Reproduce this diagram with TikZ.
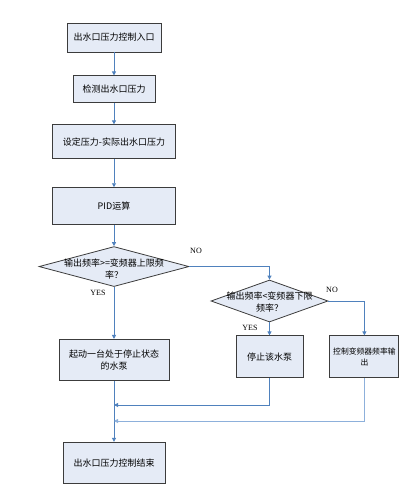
\documentclass[tikz,border=0pt]{standalone}
\usepackage{fontspec}
\setmainfont{Noto Sans CJK SC}
\newfontfamily\latinfont{Liberation Serif}
\usetikzlibrary{shapes.geometric, arrows.meta, positioning}
\definecolor{flowBlue}{RGB}{79, 129, 189}
\definecolor{flowBlueLight}{RGB}{141, 176, 219}
\definecolor{boxFill}{RGB}{229, 235, 246}
\definecolor{boxEdge}{RGB}{60, 60, 60}
\tikzset{
    % Base Block Style
    process/.style={
        rectangle,
        inner sep=1pt,
        align=center,
        font=\fontsize{9}{12}\selectfont,
        fill=boxFill,
        draw=boxEdge,
        line width=0.9pt
    },
    % Decision Style (text is set on its own node)
    decision/.style={
        diamond,
        inner sep=0pt,
        fill=boxFill,
        draw=boxEdge,
        line width=0.8pt
    },
    decisionText/.style={align=center, font=\fontsize{9}{12}\selectfont},
    % Arrow & Label Styles
    arrow/.style={-{Triangle[width=4pt,length=4pt]}, line width=0.9pt, draw=flowBlue},
    arrowLight/.style={arrow, draw=flowBlueLight},
    branchLabel/.style={font=\latinfont\fontsize{8}{10}\selectfont}
}
\begin{document}
\begin{tikzpicture}[x=1pt, y=-1pt]

    \useasboundingbox (0,0) rectangle (408,490);

    % --- MAIN COLUMN ---
    \node (entry) [process, minimum width=94pt, minimum height=29pt] at (114,37.5) {出水口压力控制入口};
    \node (detect) [process, minimum width=82pt, minimum height=27pt, below=23pt of entry] {检测出水口压力};
    \node (diff) [process, minimum width=123pt, minimum height=34pt, below=21pt of detect] {设定压力-实际出水口压力};
    \node (pid) [process, minimum width=123pt, minimum height=37pt, below=28pt of diff] {PID运算};

    % 1. Upper limit check
    \node (decUp) [decision, minimum width=150pt, minimum height=40pt, below=21pt of pid] {};
    \node (decUpText) [decisionText] at ([yshift=-2pt]decUp.center) {输出频率>=变频器上限频\\率？};

    \node (startPump) [process, minimum width=110pt, minimum height=41pt, below=52pt of decUp] {起动一台处于停止状态\\的水泵};
    \node (finish) [process, minimum width=102pt, minimum height=41pt, below=61pt of startPump] {出水口压力控制结束};

    % --- RIGHT BRANCH ---

    % 2. Lower limit check
    \node (decLow) [decision, minimum width=117pt, minimum height=42pt] at (269.5,301) {};
    \node (decLowText) [decisionText] at ([yshift=-1pt]decLow.center) {输出频率<变频器下限\\频率？};

    \node (stopPump) [process, minimum width=67pt, minimum height=42pt, below=13pt of decLow] {停止该水泵};
    \node (control) [process, minimum width=69pt, minimum height=42pt, right=26pt of stopPump,
        font=\fontsize{7.8}{11}\selectfont] {控制变频器频率输\\出};

    % --- Labels ---
    \node (yesUp) [branchLabel] at (98,293) {YES};
    \node (noUp) [branchLabel] at (196,251) {NO};
    \node (yesLow) [branchLabel] at (250,328) {YES};
    \node (noLow) [branchLabel] at (332,290) {NO};

    % --- Merge points ---
    \coordinate (joinStop) at (114,405);
    \coordinate (joinCtrl) at (114,421);

    % --- Arrows ---
    \draw [arrow] (entry) -- (detect);
    \draw [arrow] (detect) -- (diff);
    \draw [arrow] (diff) -- (pid);
    \draw [arrow] (pid) -- (decUp);
    \draw [arrow] (decUp) -- (startPump);
    \draw [arrow] (decUp.east) -| (decLow.north);
    \draw [arrow] (decLow) -- (stopPump);
    \draw [arrow] (decLow.east) -| (control.north);
    \draw [arrow] (startPump) -- (finish);
    \draw [arrow] (stopPump.south) |- (joinStop);
    \draw [arrowLight] (control.south) |- (joinCtrl);

\end{tikzpicture}
\end{document}
